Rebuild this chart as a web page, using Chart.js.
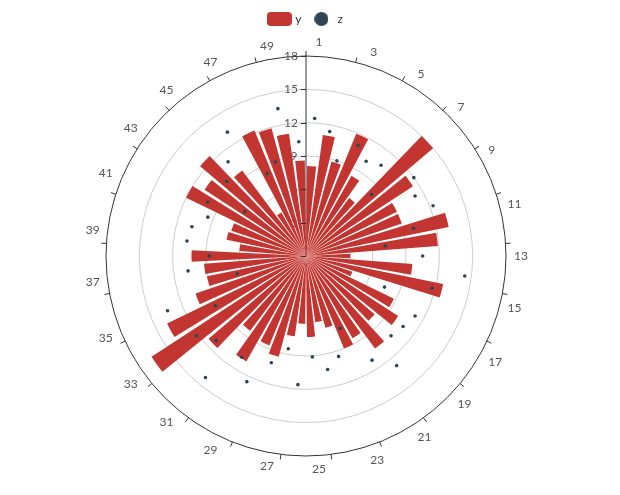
<!DOCTYPE html>
<html>
<head>
<meta charset="utf-8">
<script src="https://cdn.jsdelivr.net/npm/chart.js@4"></script>
<style>
  html, body { margin: 0; padding: 0; background: #fff; }
  #wrap { width: 620px; height: 495px; position: relative; }
</style>
</head>
<body>
<div id="wrap"><canvas id="polar"></canvas></div>
<script>
// categories 1..50 around the circle
const categories = ["1","2","3","4","5","6","7","8","9","10","11","12","13","14","15","16","17","18","19","20",
  "21","22","23","24","25","26","27","28","29","30","31","32","33","34","35","36","37","38","39","40",
  "41","42","43","44","45","46","47","48","49","50"];

// series y (bars)
const yValues = [8.1, 11.0, 8.8, 11.9, 8.3, 6.5, 15.0, 11.5, 9.1, 9.1,
  13.1, 11.9, 4.0, 9.6, 12.6, 4.4, 8.8, 9.9, 8.1, 10.4,
  8.5, 9.0, 6.7, 6.0, 7.3, 6.1, 7.3, 9.4, 8.7, 10.9,
  8.4, 11.5, 16.6, 13.9, 10.5, 9.1, 9.2, 10.3, 6.0, 7.3,
  7.1, 12.0, 10.9, 12.5, 9.6, 4.5, 12.2, 11.9, 11.1, 8.6];

// series z (dots)
const zValues = [12.4, 11.4, 9.0, 11.0, 10.1, 10.6, 8.1, 12.0, 11.2, 12.3,
  10.0, 7.2, 10.5, 14.4, 11.7, 7.6, 11.2, 10.8, 10.5, 12.8,
  11.1, 7.2, 9.5, 10.4, 9.1, 11.6, 8.5, 10.1, 12.5, 10.8,
  14.2, 11.1, 12.2, 9.3, 13.4, 6.4, 10.7, 8.7, 10.8, 10.6,
  9.5, 10.1, 6.8, 9.8, 11.0, 13.2, 8.2, 8.9, 13.5, 10.3];

// radius axis ticks
const radiusTicks = [0, 3, 6, 9, 12, 15, 18];

const BAR_COLOR = "#c23531";
const DOT_COLOR = "#2f4554";
const FONT = "Lato, 'Open Sans', sans-serif";
const LABEL_GAP = 8;

// legend swatches
function swatch(w, h, paint) {
  const c = document.createElement("canvas");
  c.width = w; c.height = h;
  paint(c.getContext("2d"));
  return c;
}
const ySwatch = swatch(25, 14, g => {
  g.fillStyle = BAR_COLOR;
  g.beginPath();
  g.roundRect(0, 0, 25, 14, 4);
  g.fill();
});
const zSwatch = swatch(14, 14, g => {
  g.fillStyle = DOT_COLOR;
  g.beginPath();
  g.arc(7, 7, 7, 0, Math.PI * 2);
  g.fill();
});

// category labels: centred / middle near the axes, otherwise hang off the circle
function placeAngleLabels(scale) {
  const items = scale._pointLabelItems;
  if (!items) return;
  const n = items.length;
  const dist = scale.drawingArea + LABEL_GAP;
  const lh = 14.4;
  items.forEach((it, i) => {
    const p = scale.getPointPosition(i, dist, Math.PI / n);
    const dx = (p.x - scale.xCenter) / dist;
    const dy = (p.y - scale.yCenter) / dist;
    it.x = p.x;
    it.textAlign = Math.abs(dx) < 0.3 ? "center" : (dx > 0 ? "left" : "right");
    if (Math.abs(dy) < 0.3) it.y = p.y - lh / 2;
    else if (dy > 0) it.y = p.y + 6 - lh / 2;
    else it.y = p.y - 6 - lh / 2;
  });
}

// bars take 80% of their slot, dots sit on the slot centre
const polarTweaks = {
  id: "polarTweaks",
  afterDatasetUpdate(chart, args) {
    const scale = chart.scales.r;
    const meta = args.meta;
    if (meta.type === "polarArea") {
      meta.data.forEach(arc => {
        const mid = (arc.startAngle + arc.endAngle) / 2;
        const half = (arc.endAngle - arc.startAngle) * 0.4;
        arc.startAngle = mid - half;
        arc.endAngle = mid + half;
      });
    } else if (meta.type === "radar") {
      const shift = Math.PI / categories.length;
      meta.data.forEach((pt, i) => {
        const p = scale.getPointPosition(i, scale.getDistanceFromCenterForValue(zValues[i]), shift);
        pt.x = p.x;
        pt.y = p.y;
      });
    }
  },
  afterDraw(chart) {
    const scale = chart.scales.r;
    const ctx = chart.ctx;
    const outer = scale.drawingArea;
    ctx.save();
    ctx.strokeStyle = "#333";
    ctx.lineWidth = 1;
    ctx.beginPath();
    // angle axis ticks, every other category boundary
    for (let i = 0; i < categories.length; i += 2) {
      const a = scale.getPointPosition(i, outer);
      const b = scale.getPointPosition(i, outer + 5);
      ctx.moveTo(a.x, a.y);
      ctx.lineTo(b.x, b.y);
    }
    // radius axis ticks
    radiusTicks.forEach(v => {
      const d = scale.getDistanceFromCenterForValue(v);
      const y = Math.round(scale.yCenter - d) + 0.5;
      ctx.moveTo(scale.xCenter, y);
      ctx.lineTo(scale.xCenter - 5, y);
    });
    ctx.stroke();
    ctx.restore();
  }
};

new Chart(document.getElementById("polar"), {
  type: "polarArea",
  data: {
    labels: categories,
    datasets: [
      {
        label: "y",
        data: yValues,
        backgroundColor: BAR_COLOR,
        borderWidth: 0,
        order: 1
      },
      {
        type: "radar",
        label: "z",
        data: zValues,
        showLine: false,
        fill: false,
        borderWidth: 0,
        pointRadius: 1.8,
        pointBorderWidth: 0,
        pointBackgroundColor: DOT_COLOR,
        order: 0
      }
    ]
  },
  options: {
    responsive: true,
    maintainAspectRatio: false,
    animation: false,
    events: [],
    layout: { padding: { top: 3, right: 8, bottom: 18, left: 0 } },
    plugins: {
      tooltip: { enabled: false },
      legend: {
        position: "top",
        labels: {
          usePointStyle: true,
          pointStyleWidth: 20,
          padding: 10,
          color: "#333",
          font: { family: FONT, size: 12 },
          generateLabels: () => [
            { text: "y", pointStyle: ySwatch, fillStyle: BAR_COLOR, strokeStyle: BAR_COLOR, lineWidth: 0, hidden: false, datasetIndex: 0, fontColor: "#333" },
            { text: "z", pointStyle: zSwatch, fillStyle: DOT_COLOR, strokeStyle: DOT_COLOR, lineWidth: 0, hidden: false, datasetIndex: 1, fontColor: "#333" }
          ]
        }
      }
    },
    scales: {
      r: {
        min: 0,
        max: 18,
        startAngle: 0,
        afterFit: placeAngleLabels,
        ticks: {
          stepSize: 3,
          showLabelBackdrop: false,
          backdropPadding: 0,
          color: "#555",
          font: { family: FONT, size: 12 },
          // pad so the centred label ends left of the axis line
          callback: v => String(v) + (String(v).length > 1 ? "\u2002\u2002\u2002\u2002\u2002" : "\u2002\u2002\u2002\u2002")
        },
        grid: {
          circular: true,
          color: c => (c.tick && c.tick.value === 18) ? "#333" : "#ccc",
          lineWidth: 1
        },
        angleLines: {
          display: true,
          color: c => c.index === 0 ? "#333" : "rgba(0,0,0,0)",
          lineWidth: 1
        },
        pointLabels: {
          display: true,
          centerPointLabels: true,
          padding: 1,
          color: "#555",
          font: { family: FONT, size: 12 },
          callback: (label, i) => i % 2 === 0 ? label : ""
        }
      }
    }
  },
  plugins: [polarTweaks]
});
</script>
</body>
</html>
